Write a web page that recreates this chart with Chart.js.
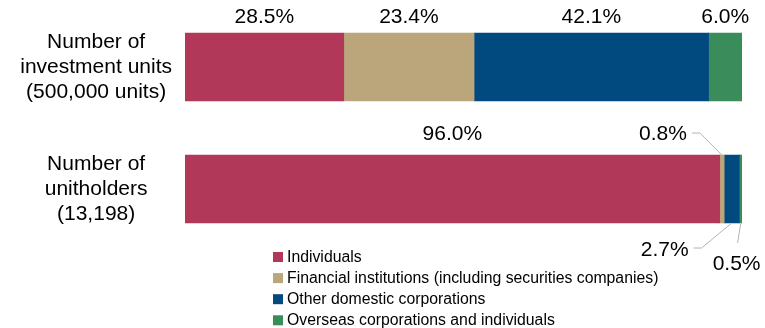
<!DOCTYPE html>
<html>
<head>
<meta charset="utf-8">
<script src="https://cdn.jsdelivr.net/npm/chart.js@4/dist/chart.umd.min.js"></script>
<style>
  html, body { margin: 0; padding: 0; background: #fff; }
  #wrap { width: 765px; height: 328px; }
</style>
</head>
<body>
<div id="wrap"><canvas id="chart" width="765" height="328"></canvas></div>
<script>
const categories = [
  ['Number of', 'investment units', '(500,000 units)'],
  ['Number of', 'unitholders', '(13,198)'],
];
const seriesNames = [
  'Individuals',
  'Financial institutions (including securities companies)',
  'Other domestic corporations',
  'Overseas corporations and individuals',
];
const individuals = [28.5, 96.0];
const financial = [23.4, 0.8];
const domestic = [42.1, 2.7];
const overseas = [6.0, 0.5];

const COLORS = ['#b2385a', '#bba57a', '#004a80', '#3a8c5b'];
const FONT = 'Arial, "Liberation Sans", sans-serif';

// label placement per [dataset][row]: side, dx from segment centre, gap from bar edge
const LABEL_LAYOUT = [
  [{ side: 'top', dx: 0, gap: 15.5 }, { side: 'top', dx: 0, gap: 21 }],
  [{ side: 'top', dx: 0, gap: 15.5 }, { side: 'top', dx: -59, gap: 21, leader: 'elbow' }],
  [{ side: 'top', dx: 0, gap: 15.5 }, { side: 'bottom', dx: -67, gap: 27, leader: 'elbow' }],
  [{ side: 'top', dx: 0, gap: 15.5 }, { side: 'bottom', dx: -4, gap: 41, leader: 'vertical' }],
];

const valueLabels = {
  id: 'valueLabels',
  afterDatasetsDraw(chart) {
    const ctx = chart.ctx;
    ctx.save();
    ctx.font = '21px ' + FONT;
    ctx.fillStyle = '#000';
    ctx.textAlign = 'center';
    ctx.textBaseline = 'middle';
    chart.data.datasets.forEach((ds, di) => {
      const meta = chart.getDatasetMeta(di);
      meta.data.forEach((bar, i) => {
        const lay = LABEL_LAYOUT[di][i];
        const { x, base, y, height } = bar.getProps(['x', 'base', 'y', 'height'], true);
        const cx = (x + base) / 2;
        const top = y - height / 2;
        const bottom = y + height / 2;
        const lx = cx + lay.dx;
        const ly = lay.side === 'top' ? top - lay.gap : bottom + lay.gap;
        const text = ds.data[i].toFixed(1) + '%';
        ctx.fillText(text, lx, ly);

        if (lay.leader) {
          const w = ctx.measureText(text).width;
          ctx.beginPath();
          ctx.strokeStyle = '#b4b4b4';
          ctx.lineWidth = 1;
          if (lay.leader === 'elbow') {
            const sy = lay.side === 'top' ? ly - 1 : ly - 2;
            const sx = lx + w / 2 + 5;
            ctx.moveTo(sx, sy);
            ctx.lineTo(sx + 8, sy);
            ctx.lineTo(cx, lay.side === 'top' ? top : bottom);
          } else {
            ctx.moveTo(cx, bottom + 1);
            ctx.lineTo(lx + 1, ly - 21);
          }
          ctx.stroke();
        }
      });
    });
    ctx.restore();
  },
};

const stackLegend = {
  id: 'stackLegend',
  afterDraw(chart) {
    const ctx = chart.ctx;
    const area = chart.chartArea;
    const left = area.left + 88;
    ctx.save();
    ctx.font = '15.8px ' + FONT;
    ctx.textBaseline = 'middle';
    ctx.textAlign = 'left';
    chart.data.datasets.forEach((ds, i) => {
      const y = area.bottom + 7 + i * 21.1;
      ctx.fillStyle = ds.backgroundColor;
      ctx.fillRect(left, y - 5, 10, 10);
      ctx.fillStyle = '#000';
      ctx.fillText(ds.label, left + 14, y + 0.5);
    });
    ctx.restore();
  },
};

const seriesData = [individuals, financial, domestic, overseas];

new Chart(document.getElementById('chart'), {
  type: 'bar',
  data: {
    labels: categories,
    datasets: seriesNames.map((name, i) => ({
      label: name,
      data: seriesData[i],
      backgroundColor: COLORS[i],
      borderWidth: 0,
      barThickness: 68,
    })),
  },
  options: {
    indexAxis: 'y',
    responsive: false,
    devicePixelRatio: 1,
    animation: false,
    layout: { padding: { top: 6, right: 23, bottom: 78, left: 0 } },
    plugins: {
      legend: { display: false },
      tooltip: { enabled: false },
    },
    scales: {
      x: { stacked: true, min: 0, max: 100, display: false },
      y: {
        stacked: true,
        grid: { display: false, drawTicks: false },
        border: { display: false },
        ticks: {
          color: '#000',
          crossAlign: 'center',
          padding: 13,
          font: { family: FONT, size: 21, lineHeight: 1.2 },
        },
        afterFit(scale) {
          scale.width = 185;
          scale.paddingTop = 0;
          scale.paddingBottom = 0;
        },
      },
    },
  },
  plugins: [valueLabels, stackLegend],
});
</script>
</body>
</html>
